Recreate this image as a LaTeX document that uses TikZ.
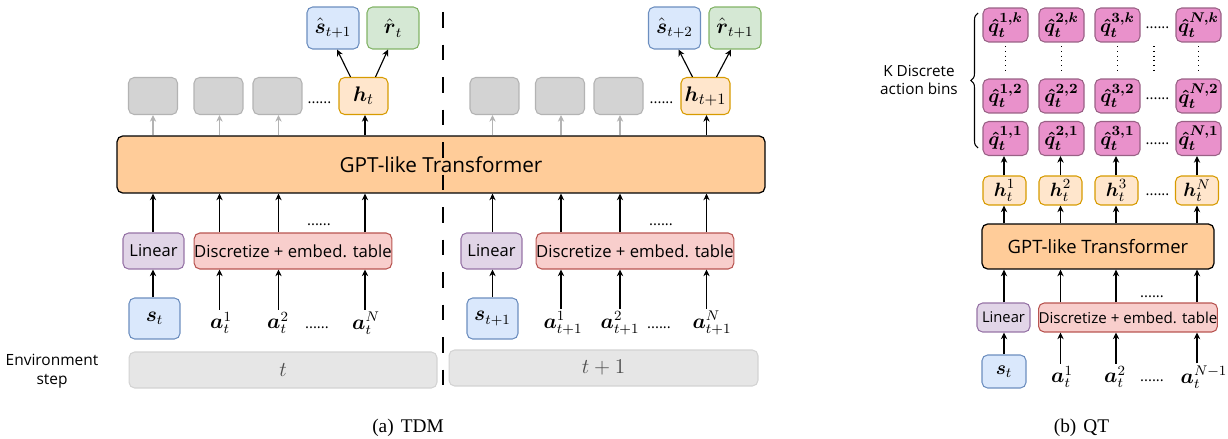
\documentclass[tikz,border=0pt]{standalone}
\usepackage{amsmath}
\usepackage{fontspec}
\setmainfont{Liberation Serif}
\newfontfamily\boxfont{Open Sans}
\usetikzlibrary{arrows.meta,calc,decorations.pathreplacing}

\definecolor{sfill}{HTML}{DAE8FC}
\definecolor{sline}{HTML}{6C8EBF}
\definecolor{rfill}{HTML}{D5E8D4}
\definecolor{rline}{HTML}{82B366}
\definecolor{hfill}{HTML}{FFE6CC}
\definecolor{hline}{HTML}{D79B00}
\definecolor{gfill}{HTML}{D3D3D3}
\definecolor{gline}{HTML}{B3B3B3}
\definecolor{tffill}{HTML}{FFCC99}
\definecolor{linfill}{HTML}{E1D5E7}
\definecolor{linline}{HTML}{9673A6}
\definecolor{discfill}{HTML}{F8CECC}
\definecolor{discline}{HTML}{B85450}
\definecolor{envfill}{HTML}{E6E6E6}
\definecolor{envline}{HTML}{D3D3D3}
\definecolor{qfill}{HTML}{E991CB}
\definecolor{qline}{HTML}{996185}

\begin{document}
\begin{tikzpicture}[x=0.02cm,y=-0.02cm]
\tikzstyle{every node}+=[inner sep=0pt]
\tikzstyle{box}=[draw, rounded corners=3.2pt, line width=0.6pt, align=center]
\tikzstyle{sbox}=[box, draw=sline, fill=sfill, font=\fontsize{12}{14}\selectfont]
\tikzstyle{rbox}=[box, draw=rline, fill=rfill, font=\fontsize{12}{14}\selectfont]
\tikzstyle{hbox}=[box, draw=hline, fill=hfill, font=\fontsize{12.5}{14}\selectfont]
\tikzstyle{graybox}=[box, draw=gline, fill=gfill, minimum width=0.98cm, minimum height=0.74cm]
\tikzstyle{tfbox}=[box, draw=black, fill=tffill, line width=0.7pt]
\tikzstyle{linbox}=[box, draw=linline, fill=linfill]
\tikzstyle{discbox}=[box, draw=discline, fill=discfill]
\tikzstyle{envbox}=[box, draw=envline, fill=envfill, minimum height=0.72cm,
  text=black!70, font=\fontsize{11.5}{13}\selectfont]
\tikzstyle{qbox}=[box, draw=qline, fill=qfill, minimum width=0.9cm, minimum height=0.68cm,
  font=\fontsize{11}{13}\selectfont]
\tikzstyle{actlabel}=[font=\fontsize{11.5}{13}\selectfont]
\tikzstyle{dotstext}=[font=\boxfont\fontsize{8.5}{10}\selectfont]
\tikzstyle{arr}=[line width=0.65pt, -{Stealth[length=3.8pt,width=3.6pt]}]
\tikzstyle{grayarr}=[arr, draw=gline]
\tikzstyle{vdots}=[dotted, line width=0.7pt, shorten <=2pt, shorten >=4pt]
\useasboundingbox (0,0) rectangle (1228,439);

% columns of arrows
\coordinate (c11) at (153,0);
\coordinate (c12) at (219.5,0);
\coordinate (c13) at (278.5,0);
\coordinate (c14) at (365,0);
\coordinate (c21) at (492.5,0);
\coordinate (c22) at (561,0);
\coordinate (c23) at (620,0);
\coordinate (c24) at (706.5,0);
\coordinate (c31) at (1004,0);
\coordinate (c32) at (1060.5,0);
\coordinate (c33) at (1116,0);
\coordinate (c34) at (1197,0);

% (a) TDM
\node[sbox, minimum width=1.04cm, minimum height=0.84cm] (sh1) at (333,28) {$\hat{\boldsymbol{s}}_{t+1}$};
\node[rbox, minimum width=1.04cm, minimum height=0.84cm] (rh1) at (393,28) {$\hat{\boldsymbol{r}}_{t}$};
\node[sbox, minimum width=1.04cm, minimum height=0.84cm] (sh2) at (674.5,28) {$\hat{\boldsymbol{s}}_{t+2}$};
\node[rbox, minimum width=1.04cm, minimum height=0.84cm] (rh2) at (735,28) {$\hat{\boldsymbol{r}}_{t+1}$};

\node[graybox] (g11) at (153,96) {};
\node[graybox] (g12) at (218.5,96) {};
\node[graybox] (g13) at (277.5,96) {};
\node[dotstext] (hd1) at (319.5,103) {......};
\node[hbox, minimum width=0.98cm, minimum height=0.74cm] (h1) at (363.5,96) {$\boldsymbol{h}_t$};
\node[graybox] (g21) at (494.5,96) {};
\node[graybox] (g22) at (560,96) {};
\node[graybox] (g23) at (618.5,96) {};
\node[dotstext] (hd2) at (661.5,103) {......};
\node[hbox, minimum width=0.98cm, minimum height=0.74cm] (h2) at (705.5,96) {$\boldsymbol{h}_{t+1}$};

\node[tfbox, minimum width=12.96cm, minimum height=1.14cm,
  font=\boxfont\fontsize{11.8}{14}\selectfont] (tf1) at (441,164.5) {GPT-like Transformer};

\node[linbox, minimum width=1.22cm, minimum height=0.72cm,
  font=\boxfont\fontsize{9.4}{11}\selectfont] (lin1) at (153.5,251) {Linear};
\node[discbox, minimum width=3.92cm, minimum height=0.72cm,
  font=\boxfont\fontsize{9.5}{11}\selectfont] (disc1) at (293,251) {Discretize + embed. table};
\node[linbox, minimum width=1.22cm, minimum height=0.72cm,
  font=\boxfont\fontsize{9.4}{11}\selectfont] (lin2) at (491.5,251) {Linear};
\node[discbox, minimum width=3.92cm, minimum height=0.72cm,
  font=\boxfont\fontsize{9.5}{11}\selectfont] (disc2) at (635,251) {Discretize + embed. table};
\node[dotstext] (dd1) at (319,225) {......};
\node[dotstext] (dd2) at (661,225) {......};

\node[sbox, minimum width=1.02cm, minimum height=0.82cm] (s1) at (154.5,318.5) {$\boldsymbol{s}_t$};
\node[actlabel] (a11) at (221,323) {$\boldsymbol{a}_t^1$};
\node[actlabel] (a12) at (278,323) {$\boldsymbol{a}_t^2$};
\node[dotstext] (ad1) at (317,328) {......};
\node[actlabel] (a1N) at (366,323) {$\boldsymbol{a}_t^N$};
\node[sbox, minimum width=1.02cm, minimum height=0.82cm] (s2) at (492.5,318.5) {$\boldsymbol{s}_{t+1}$};
\node[actlabel] (a21) at (563,323) {$\boldsymbol{a}_{t+1}^1$};
\node[actlabel] (a22) at (620,323) {$\boldsymbol{a}_{t+1}^2$};
\node[dotstext] (ad2) at (659,328) {......};
\node[actlabel] (a2N) at (712,323) {$\boldsymbol{a}_{t+1}^N$};

\node[envbox, minimum width=6.16cm] (env1) at (283,370) {$t$};
\node[envbox, minimum width=6.18cm] (env2) at (603.5,368) {$t+1$};
\node[align=center, font=\boxfont\fontsize{8.8}{10.5}\selectfont] (envlab) at (52,371) {Environment\\step};

\coordinate (dtop) at (443,12);
\coordinate (dbot) at (443,392);
\draw[line width=1.3pt, dash pattern=on 9pt off 9.5pt] (dtop) -- (dbot);

% arrows (a)
\draw[arr] ($(h1.north)+(-13,0)$) -- ($(sh1.south)+(4,0)$);
\draw[arr] ($(h1.north)+(12,0)$) -- ($(rh1.south)+(-5,0)$);
\draw[arr] ($(h2.north)+(-13,0)$) -- ($(sh2.south)+(4,0)$);
\draw[arr] ($(h2.north)+(11,0)$) -- ($(rh2.south)+(-4,0)$);
\draw[grayarr] (c11 |- tf1.north) -- (c11 |- g11.south);
\draw[grayarr] (c12 |- tf1.north) -- (c12 |- g12.south);
\draw[grayarr] (c13 |- tf1.north) -- (c13 |- g13.south);
\draw[arr] (c14 |- tf1.north) -- (c14 |- h1.south);
\draw[grayarr] (c21 |- tf1.north) -- (c21 |- g21.south);
\draw[grayarr] (c22 |- tf1.north) -- (c22 |- g22.south);
\draw[grayarr] (c23 |- tf1.north) -- (c23 |- g23.south);
\draw[arr] (c24 |- tf1.north) -- (c24 |- h2.south);
\draw[arr] (c11 |- lin1.north) -- (c11 |- tf1.south);
\draw[arr] (c12 |- disc1.north) -- (c12 |- tf1.south);
\draw[arr] (c13 |- disc1.north) -- (c13 |- tf1.south);
\draw[arr] (c14 |- disc1.north) -- (c14 |- tf1.south);
\draw[arr] (c21 |- lin2.north) -- (c21 |- tf1.south);
\draw[arr] (c22 |- disc2.north) -- (c22 |- tf1.south);
\draw[arr] (c23 |- disc2.north) -- (c23 |- tf1.south);
\draw[arr] (c24 |- disc2.north) -- (c24 |- tf1.south);
\draw[arr] (c11 |- s1.north) -- (c11 |- lin1.south);
\draw[arr] ([yshift=1pt]c12 |- a11.north) -- (c12 |- disc1.south);
\draw[arr] ([yshift=1pt]c13 |- a12.north) -- (c13 |- disc1.south);
\draw[arr] ([yshift=1pt]c14 |- a1N.north) -- (c14 |- disc1.south);
\draw[arr] (c21 |- s2.north) -- (c21 |- lin2.south);
\draw[arr] ([yshift=1pt]c22 |- a21.north) -- (c22 |- disc2.south);
\draw[arr] ([yshift=1pt]c23 |- a22.north) -- (c23 |- disc2.south);
\draw[arr] ([yshift=1pt]c24 |- a2N.north) -- (c24 |- disc2.south);

% (b) QT
\node[qbox] (qk1) at (1005.5,25) {$\boldsymbol{\hat{q}_t^{1,k}}$};
\node[qbox] (qk2) at (1061.5,25) {$\boldsymbol{\hat{q}_t^{2,k}}$};
\node[qbox] (qk3) at (1117.5,25) {$\boldsymbol{\hat{q}_t^{3,k}}$};
\node[dotstext] (qdk) at (1157.5,28) {......};
\node[qbox] (qkN) at (1198.5,25) {$\boldsymbol{\hat{q}_t^{N,k}}$};
\node[qbox] (q21) at (1005.5,96) {$\boldsymbol{\hat{q}_t^{1,2}}$};
\node[qbox] (q22) at (1061.5,96) {$\boldsymbol{\hat{q}_t^{2,2}}$};
\node[qbox] (q23) at (1117.5,96) {$\boldsymbol{\hat{q}_t^{3,2}}$};
\node[dotstext] (qd2) at (1157.5,99) {......};
\node[qbox] (q2N) at (1198.5,96) {$\boldsymbol{\hat{q}_t^{N,2}}$};
\node[qbox] (q11) at (1005.5,138.5) {$\boldsymbol{\hat{q}_t^{1,1}}$};
\node[qbox] (q12) at (1061.5,138.5) {$\boldsymbol{\hat{q}_t^{2,1}}$};
\node[qbox] (q13) at (1117.5,138.5) {$\boldsymbol{\hat{q}_t^{3,1}}$};
\node[dotstext] (qd1) at (1157.5,144) {......};
\node[qbox] (q1N) at (1198.5,138.5) {$\boldsymbol{\hat{q}_t^{N,1}}$};

\draw[vdots] (qk1.south) -- (q21.north);
\draw[vdots] (qk2.south) -- (q22.north);
\draw[vdots] (qk3.south) -- (q23.north);
\draw[vdots] ($(qk3.south)!0.45!(qkN.south)$) -- ($(q23.north)!0.45!(q2N.north)$);
\draw[vdots] (qkN.south) -- (q2N.north);

\draw[decorate, decoration={brace, amplitude=4pt}, line width=0.6pt] (978,148) -- (978,13);
\node[align=center, font=\boxfont\fontsize{8.7}{10}\selectfont] (klab) at (919,80) {K Discrete\\action bins};

\node[hbox, minimum width=0.86cm, minimum height=0.58cm, font=\fontsize{11}{13}\selectfont] (h31) at (1004.5,190.5) {$\boldsymbol{h}_t^1$};
\node[hbox, minimum width=0.86cm, minimum height=0.58cm, font=\fontsize{11}{13}\selectfont] (h32) at (1060.5,190.5) {$\boldsymbol{h}_t^2$};
\node[hbox, minimum width=0.86cm, minimum height=0.58cm, font=\fontsize{11}{13}\selectfont] (h33) at (1116.5,190.5) {$\boldsymbol{h}_t^3$};
\node[dotstext] (qdh) at (1157.5,195) {......};
\node[hbox, minimum width=0.86cm, minimum height=0.58cm, font=\fontsize{11}{13}\selectfont] (h3N) at (1197,190.5) {$\boldsymbol{h}_t^N$};

\node[tfbox, minimum width=4.64cm, minimum height=0.9cm,
  font=\boxfont\fontsize{10.5}{12}\selectfont] (tf2) at (1098,246.5) {GPT-like Transformer};
\node[linbox, minimum width=1.06cm, minimum height=0.58cm,
  font=\boxfont\fontsize{8.4}{10}\selectfont] (lin3) at (1003.5,317.5) {Linear};
\node[discbox, minimum width=3.52cm, minimum height=0.58cm,
  font=\boxfont\fontsize{8.6}{10}\selectfont] (disc3) at (1128,317.5) {Discretize + embed. table};
\node[dotstext] (dd3) at (1152,297) {......};

\node[sbox, minimum width=0.88cm, minimum height=0.66cm, font=\fontsize{11}{13}\selectfont] (s3) at (1004,371.5) {$\boldsymbol{s}_t$};
\node[actlabel] (a31) at (1062,377) {$\boldsymbol{a}_t^1$};
\node[actlabel] (a32) at (1115,377) {$\boldsymbol{a}_t^2$};
\node[dotstext] (ad3) at (1152,381) {......};
\node[actlabel] (a3N) at (1204,377) {$\boldsymbol{a}_t^{N-1}$};

\draw[arr] (c31 |- h31.north) -- (c31 |- q11.south);
\draw[arr] (c32 |- h32.north) -- (c32 |- q12.south);
\draw[arr] (c33 |- h33.north) -- (c33 |- q13.south);
\draw[arr] (c34 |- h3N.north) -- (c34 |- q1N.south);
\draw[arr] (c31 |- tf2.north) -- (c31 |- h31.south);
\draw[arr] (c32 |- tf2.north) -- (c32 |- h32.south);
\draw[arr] (c33 |- tf2.north) -- (c33 |- h33.south);
\draw[arr] (c34 |- tf2.north) -- (c34 |- h3N.south);
\draw[arr] (c31 |- lin3.north) -- (c31 |- tf2.south);
\draw[arr] (c32 |- disc3.north) -- (c32 |- tf2.south);
\draw[arr] (c33 |- disc3.north) -- (c33 |- tf2.south);
\draw[arr] (c34 |- disc3.north) -- (c34 |- tf2.south);
\draw[arr] (c31 |- s3.north) -- (c31 |- lin3.south);
\draw[arr] ([yshift=1pt]c32 |- a31.north) -- (c32 |- disc3.south);
\draw[arr] ([yshift=1pt]c33 |- a32.north) -- (c33 |- disc3.south);
\draw[arr] ([yshift=1pt]c34 |- a3N.north) -- (c34 |- disc3.south);

% captions
\node[font=\fontsize{11}{13}\selectfont] (capa) at (408,428) {(a)\hspace{4pt}TDM};
\node[font=\fontsize{11}{13}\selectfont] (capb) at (1081.5,428) {(b)\hspace{4pt}QT};
\end{tikzpicture}
\end{document}
